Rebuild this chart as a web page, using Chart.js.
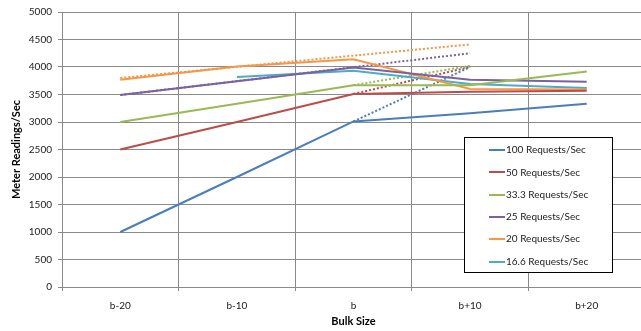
<!DOCTYPE html>
<html>
<head>
<meta charset="utf-8">
<script src="https://cdn.jsdelivr.net/npm/chart.js@4/dist/chart.umd.min.js"></script>
<style>
  html, body { margin: 0; padding: 0; background: #fff; overflow: hidden; }
  #wrap { width: 645px; height: 331px; }
</style>
</head>
<body>
<div id="wrap"><canvas id="c" width="645" height="331"></canvas></div>
<script>
// Bulk size categories on the x axis
const bulkSizes = ['b-20', 'b-10', 'b', 'b+10', 'b+20'];

// Measured meter readings per second for each request rate
const req100 = [1000, 2000, 3010, 3160, 3330];
const req50  = [2500, 3000, 3510, 3550, 3570];
const req33  = [3000, 3330, 3670, 3670, 3920];
const req25  = [3490, 3740, 3990, 3770, 3730];
const req20  = [3770, 4010, 4140, 3600, 3590];
const req16  = [null, 3820, 3930, 3690, 3620];

// Projected readings (dotted trend lines)
const trend100 = [null, null, 3010, 4000, null];
const trend50  = [null, null, 3510, 4000, null];
const trend33  = [null, null, 3670, 4020, null];
const trend25  = [3490, null, null, 4250, null];
const trend20  = [3800, null, null, 4410, null];

// Series names and colours
const seriesNames = ['100 Requests/Sec', '50 Requests/Sec', '33.3 Requests/Sec',
                     '25 Requests/Sec', '20 Requests/Sec', '16.6 Requests/Sec'];
const seriesColors = ['#4a7ebb', '#be4b48', '#98b954', '#7d60a0', '#f79646', '#4bacc6'];

// Y axis range
const yMin = 0, yMax = 5000, yStep = 500;

const FONT = 'Lato, "Open Sans", sans-serif';
const GRID = '#8a8a8a';

const solidSeries = [req100, req50, req33, req25, req20, req16];
const trendSeries = [trend100, trend50, trend33, trend25, trend20];

const datasets = [];
trendSeries.forEach((d, i) => {
  datasets.push({
    label: seriesNames[i] + ' trend',
    data: d,
    isTrend: true,
    borderColor: seriesColors[i],
    borderWidth: 2,
    borderDash: [2, 2],
    borderCapStyle: 'butt',
    spanGaps: true,
    pointRadius: 0,
    fill: false,
    tension: 0,
    order: 10
  });
});
solidSeries.forEach((d, i) => {
  datasets.push({
    label: seriesNames[i],
    data: d,
    borderColor: seriesColors[i],
    backgroundColor: seriesColors[i],
    borderWidth: 2,
    pointRadius: 0,
    fill: false,
    tension: 0,
    order: 1
  });
});

// Boxed legend placed inside the plot area, lower right
const boxLegend = {
  id: 'boxLegend',
  afterDraw(chart) {
    const ctx = chart.ctx;
    const items = chart.data.datasets.filter(ds => !ds.isTrend);
    const x0 = 464.5, y0 = 137.5, w = 148, h = 135;
    ctx.save();
    ctx.fillStyle = '#fff';
    ctx.fillRect(x0, y0, w, h);
    ctx.strokeStyle = '#000';
    ctx.lineWidth = 1;
    ctx.strokeRect(x0, y0, w, h);
    ctx.font = '10px ' + FONT;
    ctx.textBaseline = 'middle';
    ctx.textAlign = 'left';
    items.forEach((ds, i) => {
      const y = 150 + i * 22.3;
      ctx.strokeStyle = ds.borderColor;
      ctx.lineWidth = 2;
      ctx.beginPath();
      ctx.moveTo(489, Math.round(y));
      ctx.lineTo(505, Math.round(y));
      ctx.stroke();
      ctx.fillStyle = '#1a1a1a';
      ctx.fillText(ds.label, 506, y);
    });
    ctx.restore();
  }
};

new Chart(document.getElementById('c'), {
  type: 'line',
  data: { labels: bulkSizes, datasets },
  options: {
    responsive: false,
    animation: false,
    layout: { padding: { top: 10, left: 0, right: 0, bottom: 0 } },
    plugins: { legend: { display: false }, tooltip: { enabled: false } },
    scales: {
      x: {
        offset: true,
        grid: { offset: true, color: GRID, tickLength: 4, drawTicks: true },
        border: { color: GRID },
        ticks: { color: '#1a1a1a', font: { family: FONT, size: 10 }, padding: 9, maxRotation: 0 },
        title: { display: true, text: 'Bulk Size', color: '#000',
                 font: { family: FONT, size: 11, weight: 'bold' }, padding: { top: 0, bottom: 3 } },
        afterFit(scale) { scale.height = 44; }
      },
      y: {
        min: yMin, max: yMax,
        grid: { color: GRID, tickLength: 4 },
        border: { color: GRID },
        ticks: { stepSize: yStep, color: '#1a1a1a', font: { family: FONT, size: 10 }, padding: 6,
                 callback: v => String(v) },
        title: { display: true, text: 'Meter Readings/Sec', color: '#000',
                 font: { family: FONT, size: 11, weight: 'bold' }, padding: { top: 10, bottom: 0 } },
        afterFit(scale) { scale.width = 62; }
      }
    }
  },
  plugins: [boxLegend]
});
</script>
</body>
</html>
